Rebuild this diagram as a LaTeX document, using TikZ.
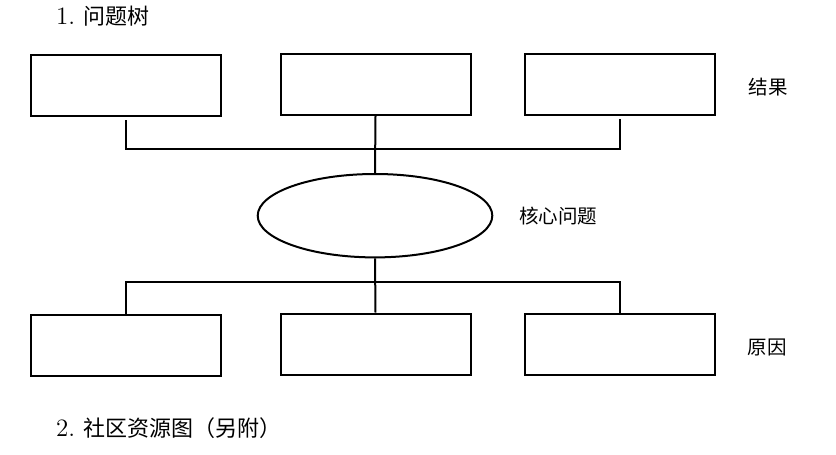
\documentclass[tikz,border=0pt]{standalone}
\usepackage{fontspec}
\newfontfamily\cjk{Noto Sans CJK SC}
\usetikzlibrary{shapes.geometric,positioning}

\begin{document}
\begin{tikzpicture}[x=0.5pt,y=-0.5pt,line width=1pt,
   box/.style={draw,minimum width=95pt,minimum height=30.5pt,inner sep=0pt},
   tag/.style={font=\cjk\fontsize{9.75}{12}\selectfont,inner sep=0pt},
   heading/.style={anchor=west,font=\fontsize{12.5}{14}\selectfont,inner sep=0pt}]
  \useasboundingbox (0,0) rectangle (836,455);
  % headings
  \node[heading] (h1) at (55,16) {1.\ {\cjk\fontsize{11}{13}\selectfont 问题树}};
  \node[heading] (h2) at (55,428) {2.\ {\cjk\fontsize{11}{13}\selectfont 社区资源图（另附）}};
  % results
  \node[box] (t1) at (125.5,85.5) {};
  \node[box] (t2) at (375.5,84.7) {};
  \node[box] (t3) at (620,84.7) {};
  % core problem
  \node[draw,ellipse,minimum width=117.3pt,minimum height=41.7pt,inner sep=0pt]
    (core) at (375,215.7) {};
  % causes
  \node[box] (b1) at (126,345) {};
  \node[box] (b2) at (375.5,344) {};
  \node[box] (b3) at (620,344) {};
  % labels
  \node[tag] (lres) at (768,87) {结果};
  \node[tag] (lcore) at (558,216) {核心问题};
  \node[tag] (lcause) at (767,347) {原因};
  \coordinate (topbus) at (375,149.3);
  \coordinate (botbus) at (375,282.3);
  \draw ([yshift=-1.5pt]t1.south) |- (topbus) -| ([yshift=-1.5pt]t3.south);
  \draw (t2.south) -- (core.north);
  \draw (core.south) -- (b2.north);
  \draw (b1.north) |- (botbus) -| (b3.north);
\end{tikzpicture}
\end{document}
